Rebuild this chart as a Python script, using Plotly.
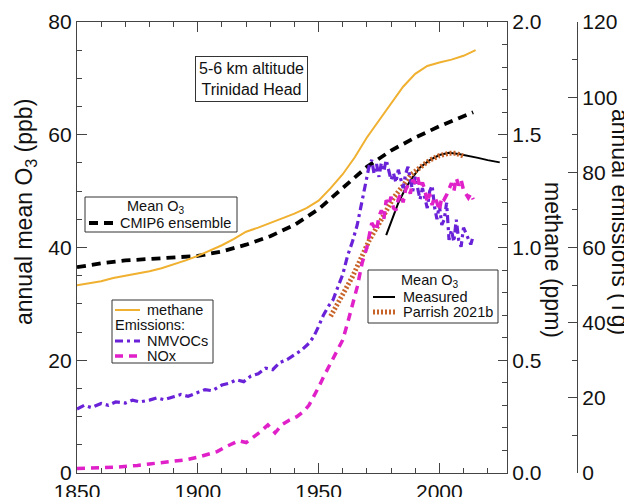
import plotly.graph_objects as go

# ---------------- data ----------------
methane_years = [1850, 1855, 1860, 1865, 1870, 1875, 1880, 1885, 1890, 1895, 1900, 1905,
                 1910, 1915, 1920, 1925, 1930, 1935, 1940, 1945, 1950, 1955, 1960, 1965,
                 1970, 1975, 1980, 1985, 1990, 1995, 2000, 2005, 2010, 2015]
methane_ppm = [0.833, 0.840, 0.850, 0.865, 0.875, 0.883, 0.895, 0.908, 0.925, 0.943, 0.963, 0.985,
               1.010, 1.038, 1.070, 1.088, 1.108, 1.130, 1.150, 1.175, 1.208, 1.263, 1.325, 1.400,
               1.488, 1.563, 1.638, 1.713, 1.770, 1.805, 1.820, 1.833, 1.850, 1.875]

cmip6_years = [1850, 1860, 1870, 1880, 1890, 1900, 1910, 1920, 1930, 1940, 1950, 1960,
               1970, 1980, 1990, 2000, 2010, 2014]
cmip6_o3 = [36.5, 37.2, 37.7, 38.0, 38.2, 38.5, 39.3, 40.5, 42.0, 44.0, 46.8, 50.5,
            54.3, 57.2, 59.5, 61.5, 63.3, 64.0]

measured_years = [1978, 1980, 1983, 1986, 1989, 1992, 1996, 2000, 2004, 2008, 2012, 2016, 2020, 2025]
measured_o3 = [42.2, 44.5, 47.9, 50.5, 52.5, 54.2, 55.5, 56.4, 56.8, 56.6, 56.3, 55.9, 55.5, 55.1]

parrish_years = [1955, 1960, 1964, 1968, 1971, 1975, 1978, 1981, 1985, 1988, 1992, 1996, 2000, 2004, 2007, 2010]
parrish_o3 = [27.8, 31.8, 34.8, 38.5, 41.3, 44.2, 46.6, 48.8, 51.0, 52.8, 54.2, 55.5, 56.3, 56.7, 56.7, 56.2]

nmvoc_years = [1850, 1853, 1856, 1860, 1863, 1866, 1870, 1873, 1876, 1880, 1883, 1886, 1890, 1893,
               1896, 1900, 1903, 1906, 1910, 1913, 1916, 1919, 1922, 1925, 1928, 1931, 1934, 1937,
               1940, 1943, 1946, 1948, 1950, 1952, 1954, 1956, 1958, 1960, 1962, 1964, 1966, 1968,
               1970, 1971, 1972, 1973, 1974, 1975, 1976, 1977, 1978, 1979, 1980, 1981, 1982, 1983,
               1984, 1985, 1986, 1987, 1988, 1989, 1990, 1991, 1992, 1993, 1994, 1995, 1996, 1997,
               1998, 1999, 2000, 2001, 2002, 2003, 2004, 2005, 2006, 2007, 2008, 2009, 2010, 2011,
               2012, 2013, 2014]
nmvoc_tg = [17.0, 18.0, 17.4, 18.5, 18.0, 18.9, 18.6, 19.4, 18.9, 19.4, 20.0, 19.5, 20.3, 20.9,
            20.4, 21.5, 22.2, 21.9, 23.4, 23.9, 24.8, 24.3, 25.8, 26.4, 27.9, 27.5, 29.4, 30.2,
            31.5, 32.7, 34.5, 36.3, 39.0, 42.0, 44.3, 46.1, 49.5, 52.8, 57.8, 61.5, 66.0, 72.6,
            78.8, 81.9, 83.3, 79.5, 82.2, 78.8, 82.5, 80.3, 83.3, 81.0, 78.0, 79.8, 77.3, 80.7,
            78.0, 75.8, 79.5, 81.5, 78.0, 75.0, 78.8, 76.1, 72.8, 75.8, 73.5, 70.5, 75.0, 76.5,
            70.8, 67.5, 71.3, 66.0, 67.4, 71.9, 62.0, 64.7, 61.5, 67.4, 62.0, 60.2, 65.3, 63.9,
            62.6, 60.8, 63.0]

nox_years = [1850, 1855, 1860, 1865, 1870, 1875, 1880, 1885, 1890, 1895, 1900, 1905, 1908, 1911,
             1914, 1917, 1920, 1923, 1926, 1929, 1932, 1935, 1938, 1941, 1944, 1946, 1948, 1950,
             1952, 1954, 1956, 1958, 1960, 1962, 1964, 1966, 1968, 1970, 1972, 1974, 1975, 1976,
             1977, 1978, 1979, 1980, 1981, 1982, 1983, 1984, 1985, 1986, 1987, 1988, 1989, 1990,
             1991, 1992, 1993, 1994, 1995, 1996, 1997, 1998, 1999, 2000, 2001, 2002, 2003, 2004,
             2005, 2006, 2007, 2008, 2009, 2010, 2011, 2012, 2013, 2014]
nox_tg = [1.2, 1.2, 1.4, 1.5, 1.7, 2.0, 2.4, 2.7, 3.0, 3.5, 4.2, 5.0, 5.7, 6.8,
          7.8, 8.6, 8.1, 9.6, 11.0, 12.8, 10.7, 12.9, 14.1, 15.0, 16.5, 18.0, 20.3, 22.8,
          25.5, 27.9, 30.3, 33.0, 35.4, 39.9, 45.0, 49.5, 55.8, 60.0, 66.5, 64.5, 68.3, 69.9,
          67.5, 72.6, 71.3, 73.5, 70.5, 69.9, 72.8, 74.3, 72.0, 75.3, 76.5, 74.3, 78.0, 77.1,
          78.8, 75.8, 77.3, 75.3, 72.0, 74.3, 71.3, 73.5, 72.0, 69.8, 73.5, 72.8, 74.0, 75.8,
          77.1, 75.0, 78.5, 76.5, 78.0, 75.3, 74.3, 73.2, 74.3, 72.8]

# ---------------- figure ----------------
W, H = 624, 497
ML, MR, MT, MB = 77, 0, 22, 24
PW = W - ML - MR
PH = H - MT - MB


def px_x(x):
    return (x - ML) / PW


def px_y(y):
    return 1 - (y - MT) / PH


C_METH = "#f0b030"
C_NMVOC = "#6a22d8"
C_NOX = "#e020c8"
C_PARR = "#c8642a"
AX = "#444444"
FONT = "Liberation Sans, Arial, sans-serif"

S_METH = dict(color=C_METH, width=2)
S_NMVOC = dict(color=C_NMVOC, width=3.2, dash="8px,4px,3px,4px")
S_NOX = dict(color=C_NOX, width=3.5, dash="8px,6px")
S_CMIP = dict(color="#000000", width=3.8, dash="9px,6px")
S_MEAS = dict(color="#000000", width=2)
S_PARR = dict(color=C_PARR, width=5, dash="2px,2px")

fig = go.Figure()

fig.add_trace(go.Scatter(x=methane_years, y=methane_ppm, yaxis="y2", mode="lines",
                         line=S_METH, name="methane"))
fig.add_trace(go.Scatter(x=nmvoc_years, y=nmvoc_tg, yaxis="y3", mode="lines",
                         line=S_NMVOC, name="NMVOCs"))
fig.add_trace(go.Scatter(x=nox_years, y=nox_tg, yaxis="y3", mode="lines",
                         line=S_NOX, name="NOx"))
fig.add_trace(go.Scatter(x=cmip6_years, y=cmip6_o3, yaxis="y", mode="lines",
                         line=S_CMIP, name="CMIP6 ensemble"))
fig.add_trace(go.Scatter(x=measured_years, y=measured_o3, yaxis="y", mode="lines",
                         line=S_MEAS, name="Measured"))
fig.add_trace(go.Scatter(x=parrish_years, y=parrish_o3, yaxis="y", mode="lines",
                         line=S_PARR, name="Parrish 2021b"))

tickfont = dict(family=FONT, size=21, color="#111")

fig.update_layout(
    width=W, height=H,
    margin=dict(l=ML, r=MR, t=MT, b=MB, autoexpand=False),
    paper_bgcolor="white", plot_bgcolor="white",
    font=dict(family=FONT, color="#111"),
    showlegend=False,
    xaxis=dict(domain=[0, (507 - ML) / PW], range=[1850, 2028], tick0=1850, dtick=50,
               ticks="inside", ticklen=10, tickcolor=AX, showline=True, linecolor=AX,
               linewidth=1.3, mirror="ticks", showgrid=False, zeroline=False,
               tickfont=tickfont,
               minor=dict(dtick=10, tick0=1850, ticks="inside", ticklen=5, tickcolor=AX, showgrid=False)),
    yaxis=dict(range=[0, 80], dtick=20, ticks="inside", ticklen=10, tickcolor=AX,
               showline=True, linecolor=AX, linewidth=1.3, mirror=True, showgrid=False,
               zeroline=False, tickfont=tickfont,
               minor=dict(dtick=5, ticks="inside", ticklen=5, tickcolor=AX, showgrid=False)),
    yaxis2=dict(range=[0, 2], overlaying="y", side="right", anchor="x", dtick=0.5,
                tickformat=".1f", ticks="inside", ticklen=9, tickcolor=AX, showline=True,
                linecolor=AX, linewidth=1.3, showgrid=False, zeroline=False, tickfont=tickfont,
                minor=dict(dtick=0.1, ticks="inside", ticklen=5, tickcolor=AX, showgrid=False)),
    yaxis3=dict(range=[0, 120], overlaying="y", side="right", anchor="free",
                position=(577 - ML) / PW, dtick=20, ticks="inside", ticklen=9, tickcolor=AX,
                showline=True, linecolor=AX, linewidth=1.3, showgrid=False, zeroline=False,
                tickfont=tickfont,
                minor=dict(dtick=10, ticks="inside", ticklen=5, tickcolor=AX, showgrid=False)),
)

# ---- axis titles ----
titlefont = dict(family=FONT, size=23, color="#111")
fig.add_annotation(x=px_x(25), y=px_y(212), xref="paper", yref="paper",
                   xanchor="center", yanchor="middle",
                   text="annual mean O<sub>3</sub> (ppb)", textangle=-90, showarrow=False,
                   font=titlefont)
fig.add_annotation(x=px_x(553), y=px_y(260), xref="paper", yref="paper",
                   xanchor="center", yanchor="middle",
                   text="methane (ppm)", textangle=90, showarrow=False, font=titlefont)
fig.add_annotation(x=px_x(620), y=px_y(222), xref="paper", yref="paper",
                   xanchor="center", yanchor="middle",
                   text="annual emissions (Tg)", textangle=90, showarrow=False, font=titlefont)

# ---- site label ----
fig.add_annotation(x=px_x(251), y=px_y(79), xref="paper", yref="paper",
                   xanchor="center", yanchor="middle",
                   text="5-6 km altitude<br>Trinidad Head", showarrow=False,
                   font=dict(family=FONT, size=16, color="#111"),
                   bordercolor="#333", borderwidth=1, borderpad=3, bgcolor="white")

# ---- legend boxes (drawn as shapes + text) ----
legfont = dict(family=FONT, size=14.5, color="#111")


def box(x0, y0, x1, y1):
    fig.add_shape(type="rect", xref="paper", yref="paper",
                  x0=px_x(x0), x1=px_x(x1), y0=px_y(y0), y1=px_y(y1),
                  line=dict(color="#333", width=1), fillcolor="white", layer="above")


def sample(x0, x1, y, style):
    fig.add_shape(type="line", xref="paper", yref="paper",
                  x0=px_x(x0), x1=px_x(x1), y0=px_y(y), y1=px_y(y),
                  line=style, layer="above")


def label(x, y, text, anchor="left"):
    fig.add_annotation(x=px_x(x), y=px_y(y), xref="paper", yref="paper",
                       xanchor=anchor, yanchor="middle", text=text, showarrow=False,
                       font=legfont, borderpad=0)


# legend 1: CMIP6
box(85, 197, 237, 232)
label(156, 207, "Mean O<sub>3</sub>", "center")
sample(89, 113, 223, S_CMIP)
label(119, 223, "CMIP6 ensemble")

# legend 2: methane + emissions
box(112, 300, 213, 363)
sample(115, 140, 310, S_METH)
label(146, 310, "methane")
label(114, 325, "Emissions:")
sample(115, 140, 341, S_NMVOC)
label(146, 341, "NMVOCs")
sample(115, 140, 356, S_NOX)
label(146, 356, "NOx")

# legend 3: measured / Parrish
box(368, 270, 498, 323)
label(430, 281, "Mean O<sub>3</sub>", "center")
sample(373, 395, 297, S_MEAS)
label(402, 297, "Measured")
sample(373, 395, 312, S_PARR)
label(402, 312, "Parrish 2021b")

fig.write_html("out.html")
